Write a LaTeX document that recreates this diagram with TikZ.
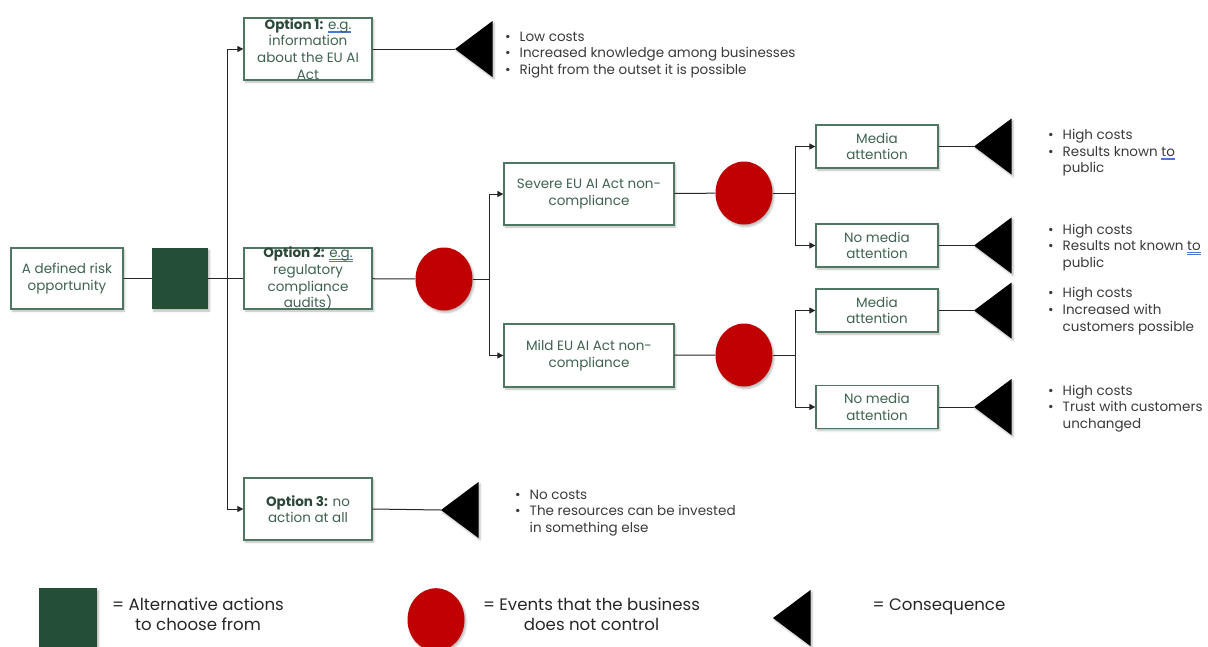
\documentclass[tikz,border=0pt]{standalone}
\usepackage{fontspec}
\setmainfont{Poppins}
\usetikzlibrary{arrows.meta,shapes.geometric,calc,shadows.blur}

\definecolor{actgreen}{HTML}{244E36}
\definecolor{boxline}{HTML}{4F7660}
\definecolor{txtgreen}{HTML}{3F6350}
\definecolor{optgreen}{HTML}{2B4838}
\definecolor{evred}{HTML}{C00000}
\definecolor{bulgray}{HTML}{3A3A3A}
\definecolor{spellblue}{HTML}{4A78D8}

% double blue underline under a word
\newcommand\spellmark[1]{\setbox0\hbox{#1}%
  \rlap{\color{spellblue}\rule[-2.2pt]{\wd0}{0.5pt}}%
  \rlap{\color{spellblue}\rule[-3.6pt]{\wd0}{0.5pt}}\box0}
\newcommand\bul{\makebox[14.5pt][l]{\textbullet}}
\newcommand\opt[1]{\textbf{\color{optgreen}#1}}

\tikzset{
  soft/.style={blur shadow={shadow xshift=1.5pt,shadow yshift=-2pt,
      shadow blur radius=2pt,shadow opacity=28}},
  box/.style={draw=boxline, line width=1.3pt, fill=white, inner sep=0pt, soft},
  optbox/.style={box, minimum width=128pt, minimum height=62pt},
  effbox/.style={box, minimum width=170pt, minimum height=62pt},
  mediabox/.style={box, minimum width=122pt, minimum height=43pt},
  boxtext/.style={text=txtgreen, align=center, inner sep=0pt,
      font=\fontsize{13.5}{16.7}\selectfont},
  event/.style={ellipse, fill=evred, minimum width=57pt, minimum height=63pt,
      inner sep=0pt, soft},
  action/.style={rectangle, fill=actgreen, inner sep=0pt, soft},
  link/.style={line width=1pt, draw=black!85},
  arr/.style={link, -{Triangle[length=6pt,width=6pt]}},
  bullets/.style={anchor=base west, inner sep=0pt, text=bulgray,
      font=\fontsize{13.5}{16.7}\selectfont},
  legtext/.style={anchor=base, inner sep=0pt, text=black!85,
      font=\fontsize{16.6}{20}\selectfont},
}

% consequence marker: black triangle pointing left, apex named
\newcommand\conseq[2]{%
  \coordinate (#1) at #2;
  \fill[black, soft] (#1) -- ++(37.5,-28) -- ++(0,56) -- cycle;}

\begin{document}
\begin{tikzpicture}[x=1pt,y=-1pt]
\useasboundingbox (0,0) rectangle (1208,646);
\clip (0,0) rectangle (1208,646);

% ---- decision part
\node[box, minimum width=112pt, minimum height=61pt] (risk) at (67,278.5) {};
\node[boxtext] at (risk) {A defined risk\\opportunity};
\node[action, minimum width=56pt, minimum height=61pt] (sq) at (180,278.5) {};

\node[optbox] (opt1) at (308,49) {};
\node[boxtext] at (opt1) {\opt{Option 1:} \spellmark{e.g.}\\information\\about the EU AI\\Act};
\node[optbox, minimum height=61pt] (opt2) at (308,278.5) {};
\node[boxtext] at (opt2) {\opt{Option 2:} \spellmark{e.g.}\\regulatory\\compliance\\audits)};
\node[optbox] (opt3) at (308,509) {};
\node[boxtext] at (opt3) {\opt{Option 3:} no\\action at all};

% ---- chance part
\node[event] (ev1) at (444,279) {};
\node[effbox] (sev) at (589,194) {};
\node[boxtext] at (sev) {Severe EU AI Act non-\\compliance};
\node[effbox, minimum height=63pt] (mild) at (589,355.5) {};
\node[boxtext] at (mild) {Mild EU AI Act non-\\compliance};
\node[event] (ev2) at (744,193) {};
\node[event] (ev3) at (744,355) {};

\node[mediabox] (m1) at (877,146.5) {};
\node[boxtext] at (m1) {Media\\attention};
\node[mediabox] (n1) at (877,245.5) {};
\node[boxtext] at (n1) {No media\\attention};
\node[mediabox] (m2) at (877,310.5) {};
\node[boxtext] at (m2) {Media\\attention};
\node[mediabox] (n2) at (877,407) {};
\node[boxtext] at (n2) {No media\\attention};

% ---- consequences
\conseq{c1}{(455,49)}
\conseq{c3}{(441,510)}
\conseq{cm1}{(974,146.5)}
\conseq{cn1}{(974,245.5)}
\conseq{cm2}{(974,310.5)}
\conseq{cn2}{(974,407)}

% ---- connectors
\coordinate (f1) at ($(sq.east)+(19,0)$);
\coordinate (f2) at ($(ev1.east)+(16.5,0)$);
\coordinate (f3) at ($(ev2.east)+(22.5,0)$);
\coordinate (f4) at ($(ev3.east)+(22.5,0)$);

\draw[link] (risk) -- (sq);
\draw[link] (sq) -- (opt2);
\draw[arr] (f1) |- (opt1.west);
\draw[arr] (f1) |- (opt3.west);
\draw[link] (opt1.east) -- (c1);
\draw[link] (opt3.east) -- (c3);
\draw[link] (opt2) -- (ev1);
\draw[link] (ev1.east) -- (f2);
\draw[arr] (f2) |- (sev.west);
\draw[arr] (f2) |- (mild.west);
\draw[link] (sev) -- (ev2);
\draw[link] (mild) -- (ev3);
\draw[link] (ev2.east) -- (f3);
\draw[link] (ev3.east) -- (f4);
\draw[arr] (f3) |- (m1.west);
\draw[arr] (f3) |- (n1.west);
\draw[arr] (f4) |- (m2.west);
\draw[arr] (f4) |- (n2.west);
\draw[link] (m1.east) -- (cm1);
\draw[link] (n1.east) -- (cn1);
\draw[link] (m2.east) -- (cm2);
\draw[link] (n2.east) -- (cn2);

% ---- outcome lists
\node[bullets] (b1) at (505,41) {\begin{tabular}[t]{@{}l@{}l@{}}
  \bul & Low costs\\ \bul & Increased knowledge among businesses\\
  \bul & Right from the outset it is possible\end{tabular}};
\node[bullets] (b3) at (515,499) {\begin{tabular}[t]{@{}l@{}l@{}}
  \bul & No costs\\ \bul & The resources can be invested\\
  & in something else\end{tabular}};
\node[bullets] (bm1) at (1048,139.3) {\begin{tabular}[t]{@{}l@{}l@{}}
  \bul & High costs\\ \bul & Results known \spellmark{to}\\ & public\end{tabular}};
\node[bullets] (bn1) at (1048,234) {\begin{tabular}[t]{@{}l@{}l@{}}
  \bul & High costs\\ \bul & Results not known \spellmark{to}\\ & public\end{tabular}};
\node[bullets] (bm2) at (1048,297.7) {\begin{tabular}[t]{@{}l@{}l@{}}
  \bul & High costs\\ \bul & Increased with\\ & customers possible\end{tabular}};
\node[bullets] (bn2) at (1048,395) {\begin{tabular}[t]{@{}l@{}l@{}}
  \bul & High costs\\ \bul & Trust with customers\\ & unchanged\end{tabular}};

% ---- legend
\node[action, minimum width=58pt, minimum height=64pt, anchor=north west] (lsq) at (39,588) {};
\node[legtext] (l1) at (198,610) {\begin{tabular}[t]{@{}c@{}}= Alternative actions\\to choose from\end{tabular}};
\node[event, anchor=north] (lev) at (436,588) {};
\node[legtext] (l2) at (591.5,610) {\begin{tabular}[t]{@{}c@{}}= Events that the business\\does not control\end{tabular}};
\conseq{lc}{(773,618)}
\node[legtext] (l3) at (939,610) {= Consequence};
\end{tikzpicture}
\end{document}
